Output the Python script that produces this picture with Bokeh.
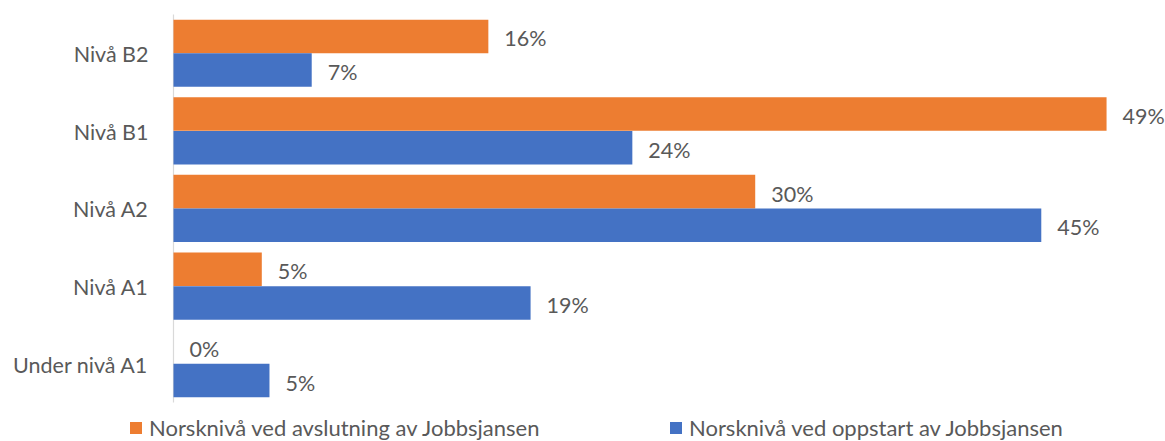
from bokeh.plotting import figure
from bokeh.models import ColumnDataSource, Range1d, Legend, LegendItem
from bokeh.core.properties import value
from bokeh.embed import file_html
from bokeh.resources import INLINE

# Data (bottom to top)
categories = ["Under nivå A1", "Nivå A1", "Nivå A2", "Nivå B1", "Nivå B2"]
avslutning = [0.0, 4.6, 30.3, 48.6, 16.4]   # Norsknivå ved avslutning av Jobbsjansen
oppstart = [5.0, 18.6, 45.2, 23.9, 7.2]     # Norsknivå ved oppstart av Jobbsjansen
series_names = ["Norsknivå ved avslutning av Jobbsjansen",
                "Norsknivå ved oppstart av Jobbsjansen"]

FONT = "Lato"
TXT = "#595959"
ORANGE = "#ED7D31"
BLUE = "#4472C4"

off = 0.217
h = 0.432
pos = list(range(len(categories)))

src = ColumnDataSource(dict(
    cat=categories,
    y=pos,
    y_avs=[v + off for v in pos],
    y_opp=[v - off for v in pos],
    zero=[0] * len(pos),
    avs=avslutning,
    opp=oppstart,
    avs_lab=[f"{round(v)}%" for v in avslutning],
    opp_lab=[f"{round(v)}%" for v in oppstart],
))

p = figure(width=1165, height=441, output_backend="svg", toolbar_location=None,
           x_range=Range1d(-9.01, 51.67), y_range=Range1d(-1.003, 4.680),
           min_border=0)
p.outline_line_color = None
p.grid.visible = False
p.axis.visible = False
p.background_fill_color = "white"

# axis line
p.segment(x0=0, x1=0, y0=-0.5, y1=len(categories) - 0.5,
          line_color="#D9D9D9", line_width=1.2)

r1 = p.hbar(y="y_avs", right="avs", left=0, height=h,
            source=src, fill_color=ORANGE, line_color=None)
r2 = p.hbar(y="y_opp", right="opp", left=0, height=h,
            source=src, fill_color=BLUE, line_color=None)

p.text(x="avs", y="y_avs", text="avs_lab", source=src,
       x_offset=16, y_offset=2, text_baseline="middle", text_align="left",
       text_font=value(FONT), text_font_size="21.5px", text_color=TXT)
p.text(x="opp", y="y_opp", text="opp_lab", source=src,
       x_offset=16, y_offset=2, text_baseline="middle", text_align="left",
       text_font=value(FONT), text_font_size="21.5px", text_color=TXT)

# category labels
p.text(x="zero", y="y", text="cat", source=src,
       x_offset=-25, y_offset=1, text_baseline="middle", text_align="right",
       text_font=value(FONT), text_font_size="21.5px", text_color=TXT)

for rend, name, xloc in [(r1, series_names[0], 128), (r2, series_names[1], 668)]:
    leg = Legend(items=[LegendItem(label=name, renderers=[rend])],
                 location=(xloc, 0), padding=0, margin=0,
                 border_line_color=None, background_fill_alpha=0,
                 glyph_width=15, glyph_height=15, label_standoff=6,
                 label_text_font=FONT, label_text_font_size="22px",
                 label_text_color=TXT)
    p.add_layout(leg, "center")

open("out.html", "w").write(file_html(p, INLINE))
